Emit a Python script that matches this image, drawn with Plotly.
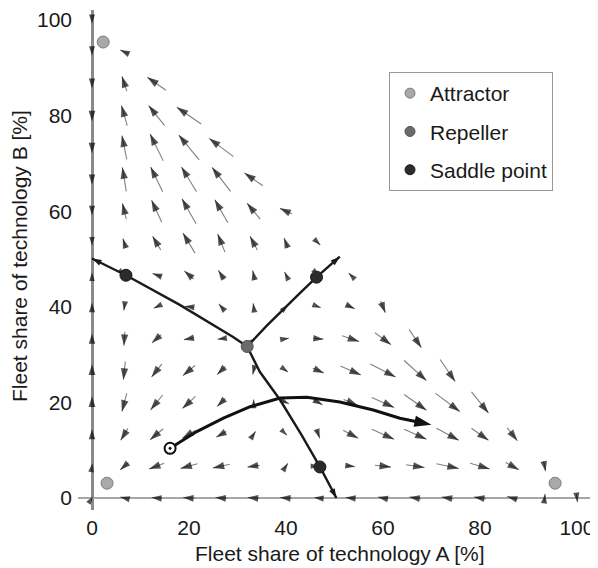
import math
import plotly.graph_objects as go

# ---------------- data ----------------
GRID_N = 15                      # grid spacing = 100/15 % along each axis
grid_step = 100.0 / GRID_N

# Vector field, one row per fleet share B (row 0 = 0 %, row 15 = 100 %).
# Row j holds the points x = 0, 6.67, ... up to x + y = 100.  Values in percentage points.
arrow_u = [
    [0.4, -1.7, -2.1, -2.5, -2.5, -2.5, -2.5, -1.7, -2.1, -2.1, -2.5, -2.5, -2.5, -2.1, 0.2, 0.2],
    [0.2, -1.7, -3.1, -3.5, -3.5, -2.5, 0.8, 0.2, 1.7, 3.3, 3.8, 4.6, 4.0, 2.7, 0.4],
    [0.0, -1.5, -2.7, -2.7, -2.1, 0.8, 0.4, 0.6, 3.1, 4.6, 4.6, 4.6, 3.5, 2.1],
    [0.0, -1.0, -2.5, -2.7, -1.7, 0.0, 1.2, 1.7, 2.9, 4.6, 4.6, 5.0, 3.5],
    [0.0, -0.4, -2.1, -2.5, -1.7, -0.4, 0.8, 2.3, 4.2, 5.2, 4.6, 3.1],
    [0.0, -0.2, -1.9, -2.1, -1.5, 0.2, 1.2, 2.1, 3.5, 3.3, 2.5],
    [0.0, -0.2, -1.2, -1.7, -1.0, -0.2, 0.8, 1.0, 1.7, 1.0],
    [0.0, 0.2, -1.7, -1.9, -1.2, -0.4, -0.6, 0.2, -0.8],
    [0.0, -0.6, -1.7, -2.5, -1.5, -1.5, -0.8, 0.8],
    [0.0, -0.8, -2.1, -2.9, -2.7, -2.7, -2.5],
    [0.0, -0.8, -2.5, -3.1, -3.8, -3.8],
    [0.0, -1.0, -2.7, -4.2, -5.0],
    [0.0, -1.2, -3.3, -5.0],
    [0.0, -1.0, -3.8],
    [0.0, -1.7],
    [0.0],
]
arrow_v = [
    [0.6, 0.4, 0.2, 0.2, 0.2, 0.2, 0.2, 0.2, 0.2, 0.4, 0.4, 0.4, 0.4, 0.6, 1.7, -1.7],
    [1.2, -1.5, -1.2, -1.0, -0.8, -0.4, 1.2, 0.0, -0.2, -0.4, -0.6, -1.0, -1.2, -1.5, -2.1],
    [2.1, -2.5, -2.3, -1.7, -1.2, 1.2, -0.4, -1.7, -1.7, -2.1, -2.1, -2.5, -2.5, -2.7],
    [2.5, -3.8, -3.1, -2.5, -1.7, 1.2, -0.6, -1.0, -1.2, -2.1, -3.3, -3.8, -4.4],
    [2.5, -3.8, -2.7, -2.1, -1.7, -1.7, -0.6, -1.0, -1.9, -2.7, -4.2, -4.6],
    [2.1, -2.9, -1.7, -0.4, -0.2, 0.2, 0.2, -0.2, -1.2, -2.5, -3.8],
    [1.7, -1.5, -0.6, 0.2, 1.2, 1.5, 0.8, -0.4, -0.8, -2.5],
    [1.0, -0.2, 0.6, 1.7, 1.9, 1.9, 1.2, -0.2, 0.8],
    [-1.0, 1.9, 2.9, 4.2, 3.8, 2.9, 2.1, -0.8],
    [-1.7, 3.3, 4.6, 5.2, 4.8, 3.3, 1.2],
    [-2.1, 5.0, 5.2, 5.2, 5.0, 2.7],
    [-2.3, 5.0, 5.6, 5.2, 3.8],
    [-2.3, 4.2, 4.2, 3.5],
    [-1.9, 3.1, 2.7],
    [-1.5, 0.8],
    [-1.5],
]

# fixed points
attractor_x = [2.3, 3.1, 95.5]
attractor_y = [95.4, 3.1, 3.1]
repeller_x = [32.0]
repeller_y = [31.7]
saddle_x = [7.0, 46.3, 47.0]
saddle_y = [46.6, 46.2, 6.5]

# separatrices (from the repeller outwards)
sep_left_x = [32.0, 29.1, 18.1, 7.0, 0.0]
sep_left_y = [31.7, 33.7, 40.4, 46.6, 50.1]
sep_up_x = [32.0, 36.0, 42.5, 46.3, 51.1]
sep_up_y = [31.7, 36.0, 42.5, 46.2, 50.5]
sep_down_x = [32.0, 34.6, 38.8, 43.2, 47.0, 50.4]
sep_down_y = [31.7, 26.4, 20.5, 13.2, 6.5, 0.0]

# example trajectory
traj_x = [16.1, 21.6, 27.1, 32.6, 38.8, 44.3, 51.1, 58.0, 63.5, 70.0]
traj_y = [10.4, 13.9, 16.7, 19.1, 20.9, 21.1, 20.1, 18.4, 16.7, 15.3]

tick_vals = [0, 20, 40, 60, 80, 100]
x_title = "Fleet share of technology A [%]"
y_title = "Fleet share of technology B [%]"

# ---------------- layout geometry ----------------
# The page body has an 8 px margin, so the figure is drawn 8 px smaller and sits at (8, 8).
PAGE_OFF = 8
W, H = 598 - PAGE_OFF, 568 - PAGE_OFF
ML, MR, MT, MB = 78 - PAGE_OFF, 7, 10 - PAGE_OFF, 58
X_RANGE = [-2.89, 102.9]
Y_RANGE = [-2.51, 102.1]
PW, PH = W - ML - MR, H - MT - MB
PLOT_LEFT, PLOT_BOTTOM = 78, 510          # page pixels
sx = PW / (X_RANGE[1] - X_RANGE[0])
sy = PH / (Y_RANGE[1] - Y_RANGE[0])

FONT = "Liberation Sans, Arial, Helvetica, sans-serif"


def angle_of(dx, dy):
    return math.degrees(math.atan2(dx * sx, dy * sy))


def paper_x(px):
    return (px - PLOT_LEFT) / PW


def paper_y(py):
    return (PLOT_BOTTOM - py) / PH


# ---------------- quiver ----------------
shaft_x, shaft_y = [], []
tip_x, tip_y, tip_ang, tip_size = [], [], [], []
for j, (urow, vrow) in enumerate(zip(arrow_u, arrow_v)):
    for i, (u, v) in enumerate(zip(urow, vrow)):
        cx, cy = i * grid_step, j * grid_step
        x0, y0 = cx - u / 2, cy - v / 2
        x1, y1 = cx + u / 2, cy + v / 2
        shaft_x += [x0, x1, None]
        shaft_y += [y0, y1, None]
        length_px = math.hypot(u * sx, v * sy)
        tip_x.append(x1)
        tip_y.append(y1)
        tip_ang.append(angle_of(u, v))
        tip_size.append(max(8.5, min(12, 7.5 + 0.3 * length_px)))

fig = go.Figure()

fig.add_trace(go.Scatter(
    x=shaft_x, y=shaft_y, mode="lines",
    line=dict(color="#808080", width=1.1), hoverinfo="skip", showlegend=False))
fig.add_trace(go.Scatter(
    x=tip_x, y=tip_y, mode="markers", hoverinfo="skip", showlegend=False,
    marker=dict(symbol="arrow", size=tip_size, angle=tip_ang,
                color="#080808", line=dict(width=0))))

# separatrices
for lx, ly in [(sep_left_x, sep_left_y), (sep_up_x, sep_up_y), (sep_down_x, sep_down_y)]:
    fig.add_trace(go.Scatter(x=lx, y=ly, mode="lines", line=dict(color="#1a1a1a", width=2.4),
                             hoverinfo="skip", showlegend=False))
    fig.add_trace(go.Scatter(
        x=[lx[-1]], y=[ly[-1]], mode="markers", hoverinfo="skip", showlegend=False,
        marker=dict(symbol="arrow", size=10, color="#1a1a1a",
                    angle=[angle_of(lx[-1] - lx[-2], ly[-1] - ly[-2])], line=dict(width=0))))

# trajectory
fig.add_trace(go.Scatter(x=traj_x[:-1] + [traj_x[-1] - 1.5], y=traj_y[:-1] + [traj_y[-1] + 0.32],
                         mode="lines", line=dict(color="#111111", width=3),
                         hoverinfo="skip", showlegend=False))
fig.add_trace(go.Scatter(
    x=[traj_x[-1]], y=[traj_y[-1]], mode="markers", hoverinfo="skip", showlegend=False,
    marker=dict(symbol="arrow", size=18, color="#111111",
                angle=[angle_of(traj_x[-1] - traj_x[-2], traj_y[-1] - traj_y[-2])],
                line=dict(width=0))))
fig.add_trace(go.Scatter(
    x=[traj_x[0]], y=[traj_y[0]], mode="markers", hoverinfo="skip", showlegend=False,
    marker=dict(symbol="circle-dot", size=11, color="white",
                line=dict(color="#111111", width=2))))

# fixed points
fig.add_trace(go.Scatter(x=attractor_x, y=attractor_y, mode="markers", showlegend=False,
                         marker=dict(size=12, color="#a9a9a9", line=dict(color="#7d7d7d", width=1))))
fig.add_trace(go.Scatter(x=repeller_x, y=repeller_y, mode="markers", showlegend=False,
                         marker=dict(size=12, color="#6a6a6a", line=dict(color="#505050", width=1))))
fig.add_trace(go.Scatter(x=saddle_x, y=saddle_y, mode="markers", showlegend=False,
                         marker=dict(size=12, color="#2b2b2b", line=dict(color="#1a1a1a", width=1))))

# legend entries
for name, col, edge, grp in [("Attractor", "#a9a9a9", "#7d7d7d", "a"),
                             ("Repeller", "#6a6a6a", "#505050", "r"),
                             ("Saddle point", "#2b2b2b", "#1a1a1a", "s")]:
    fig.add_trace(go.Scatter(x=[None], y=[None], mode="markers", name=name, legendgroup=grp,
                             marker=dict(size=10, color=col, line=dict(color=edge, width=1))))

axis_common = dict(
    showgrid=False, zeroline=True, showline=False, ticks="", tickvals=tick_vals,
    automargin=False, tickfont=dict(family=FONT, size=21, color="#1a1a1a"),
)

fig.update_layout(
    width=W, height=H,
    margin=dict(l=ML, r=MR, t=MT, b=MB, autoexpand=False),
    paper_bgcolor="white", plot_bgcolor="white",
    font=dict(family=FONT, size=21, color="#1a1a1a"),
    xaxis=dict(range=X_RANGE, ticklabelstandoff=3, zerolinecolor="#8a8a8a", zerolinewidth=2.5,
               **axis_common),
    yaxis=dict(range=Y_RANGE, ticklabelstandoff=5, zerolinecolor="#a6a6a6", zerolinewidth=1.6,
               **axis_common),
    showlegend=True,
    legend=dict(x=paper_x(389), y=paper_y(72),
                xanchor="left", yanchor="top", bgcolor="white",
                bordercolor="#999999", borderwidth=1, tracegroupgap=8,
                font=dict(family=FONT, size=21, color="#1a1a1a")),
    annotations=[
        dict(text=x_title, xref="paper", yref="paper", x=paper_x(340), y=paper_y(553),
             showarrow=False, xanchor="center", yanchor="middle",
             font=dict(family=FONT, size=21, color="#1a1a1a")),
        dict(text=y_title, xref="paper", yref="paper", x=paper_x(19), y=paper_y(256),
             showarrow=False, xanchor="center", yanchor="middle", textangle=-90,
             font=dict(family=FONT, size=21, color="#1a1a1a")),
    ],
)

fig.write_html("out.html")
